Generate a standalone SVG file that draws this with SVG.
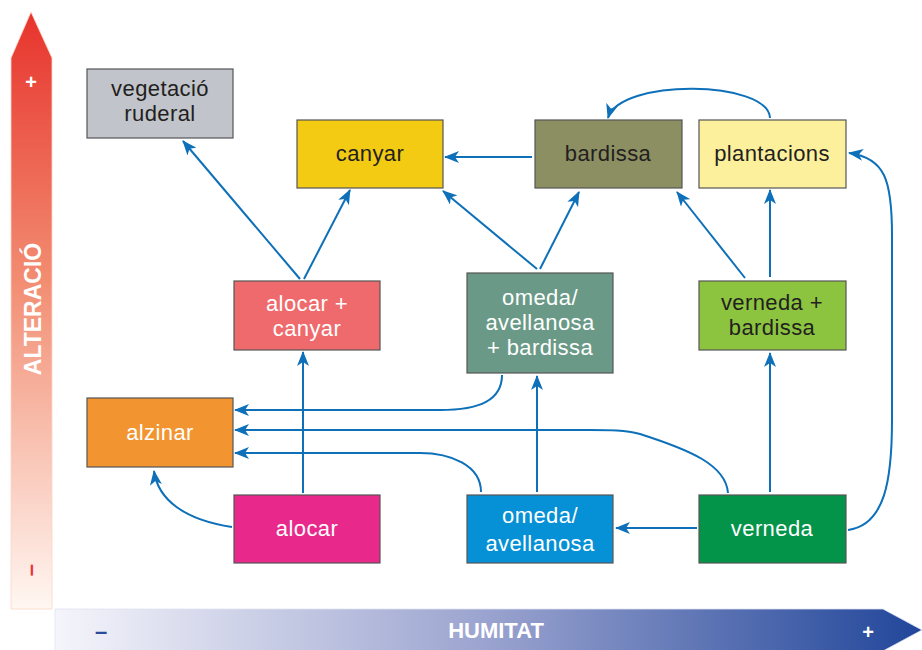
<svg xmlns="http://www.w3.org/2000/svg" width="922" height="650" viewBox="0 0 922 650">
<defs>
<linearGradient id="gv" x1="0" y1="0" x2="0" y2="1">
<stop offset="0" stop-color="#e7332c"/>
<stop offset="0.45" stop-color="#f28d72"/>
<stop offset="1" stop-color="#fff7f2"/>
</linearGradient>
<linearGradient id="gh" x1="0" y1="0" x2="1" y2="0">
<stop offset="0" stop-color="#f5f5fb"/>
<stop offset="0.5" stop-color="#9aa3cf"/>
<stop offset="1" stop-color="#21469a"/>
</linearGradient>
<marker id="ah" markerUnits="userSpaceOnUse" markerWidth="16" markerHeight="12" refX="14" refY="6" orient="auto" viewBox="0 0 16 12">
<path d="M0,0 L15,6 L0,12 L4,6 z" fill="#0d70b8"/>
</marker>
<style>
.box{stroke:#555;stroke-width:1.2}
.t{font-family:"Liberation Sans",Arial,sans-serif;font-size:22px;letter-spacing:0.4px;text-anchor:middle}
.d{fill:#231f20}
.w{fill:#ffffff}
.c{fill:none;stroke:#0d70b8;stroke-width:2;marker-end:url(#ah)}
.ax{font-family:"Liberation Sans",Arial,sans-serif;font-weight:bold;text-anchor:middle}
</style>
</defs>
<g id="axis-alteracio">
<polygon points="31,12 52,58 52,609 11,609 11,58" fill="url(#gv)" stroke="#fbd5c8" stroke-width="0.8"/>
<text class="ax" x="31" y="89" font-size="20" fill="#ffffff">+</text>
<text class="ax" transform="translate(41,309) rotate(-90)" font-size="23" fill="#ffffff">ALTERACIÓ</text>
<text class="ax" transform="translate(38,570) rotate(-90)" font-size="22" fill="#e8343a">–</text>
</g>
<g id="axis-humitat">
<polygon points="55,609 883,609 922,630 883,651 55,651" fill="url(#gh)" stroke="#dfe2f0" stroke-width="0.8"/>
<text class="ax" x="101" y="639" font-size="22" fill="#2a4a9a">–</text>
<text class="ax" x="496" y="638" font-size="22" fill="#ffffff">HUMITAT</text>
<text class="ax" x="868" y="639" font-size="20" fill="#ffffff">+</text>
</g>
<g id="connectors">
<path class="c" d="M300,279 L183,141"/>
<path class="c" d="M304,279 L350,190"/>
<path class="c" d="M532,157 L445,157"/>
<path class="c" d="M537,269 L443,191"/>
<path class="c" d="M540,269 L579,192"/>
<path class="c" d="M745,278 L677,192"/>
<path class="c" d="M770,277 L770,190"/>
<path class="c" d="M770,118 C768,80 620,78 608,118"/>
<path class="c" d="M303,493 L303,352"/>
<path class="c" d="M232,527 C185,520 158,500 154,471"/>
<path class="c" d="M502,375 C502,400 480,410 440,410 L235,410"/>
<path class="c" d="M728,493 C726,465 690,450 640,434 C625,430 610,430 590,430 L235,430"/>
<path class="c" d="M481,492 C481,465 450,453 420,453 L235,453"/>
<path class="c" d="M537,492 L537,376"/>
<path class="c" d="M697,528 L616,528"/>
<path class="c" d="M770,492 L770,353"/>
<path class="c" d="M848,530 C885,525 892,480 892,420 L892,235 C892,180 885,158 849,153"/>
</g>
<g id="vegetacio-ruderal">
<rect class="box" x="87" y="69" width="146" height="69" fill="#c1c4ca"/>
<text class="t d" x="160" y="96">vegetació</text>
<text class="t d" x="160" y="121">ruderal</text>
</g>
<g id="canyar">
<rect class="box" x="297" y="120" width="146" height="68" fill="#f3cb12"/>
<text class="t d" x="370" y="161">canyar</text>
</g>
<g id="bardissa">
<rect class="box" x="535" y="120" width="147" height="68" fill="#8c8f62"/>
<text class="t d" x="608" y="161">bardissa</text>
</g>
<g id="plantacions">
<rect class="box" x="699" y="120" width="147" height="68" fill="#fdf09c"/>
<text class="t d" x="772" y="161">plantacions</text>
</g>
<g id="alocar-canyar">
<rect class="box" x="234" y="281" width="146" height="69" fill="#ef6a6c"/>
<text class="t w" x="307" y="311">alocar +</text>
<text class="t w" x="307" y="336">canyar</text>
</g>
<g id="omeda-avellanosa-bardissa">
<rect class="box" x="467" y="273" width="146" height="100" fill="#6a9a87"/>
<text class="t w" x="540" y="305">omeda/</text>
<text class="t w" x="540" y="330">avellanosa</text>
<text class="t w" x="540" y="355">+ bardissa</text>
</g>
<g id="verneda-bardissa">
<rect class="box" x="699" y="281" width="147" height="69" fill="#8cc43f"/>
<text class="t d" x="772" y="310">verneda +</text>
<text class="t d" x="772" y="335">bardissa</text>
</g>
<g id="alzinar">
<rect class="box" x="87" y="398" width="146" height="69" fill="#f29530"/>
<text class="t w" x="160" y="440">alzinar</text>
</g>
<g id="alocar">
<rect class="box" x="234" y="495" width="146" height="68" fill="#e8288a"/>
<text class="t w" x="307" y="536">alocar</text>
</g>
<g id="omeda-avellanosa">
<rect class="box" x="467" y="495" width="146" height="68" fill="#0690d5"/>
<text class="t w" x="540" y="523">omeda/</text>
<text class="t w" x="540" y="551">avellanosa</text>
</g>
<g id="verneda">
<rect class="box" x="699" y="495" width="147" height="68" fill="#03944a"/>
<text class="t w" x="772" y="536">verneda</text>
</g>
</svg>
